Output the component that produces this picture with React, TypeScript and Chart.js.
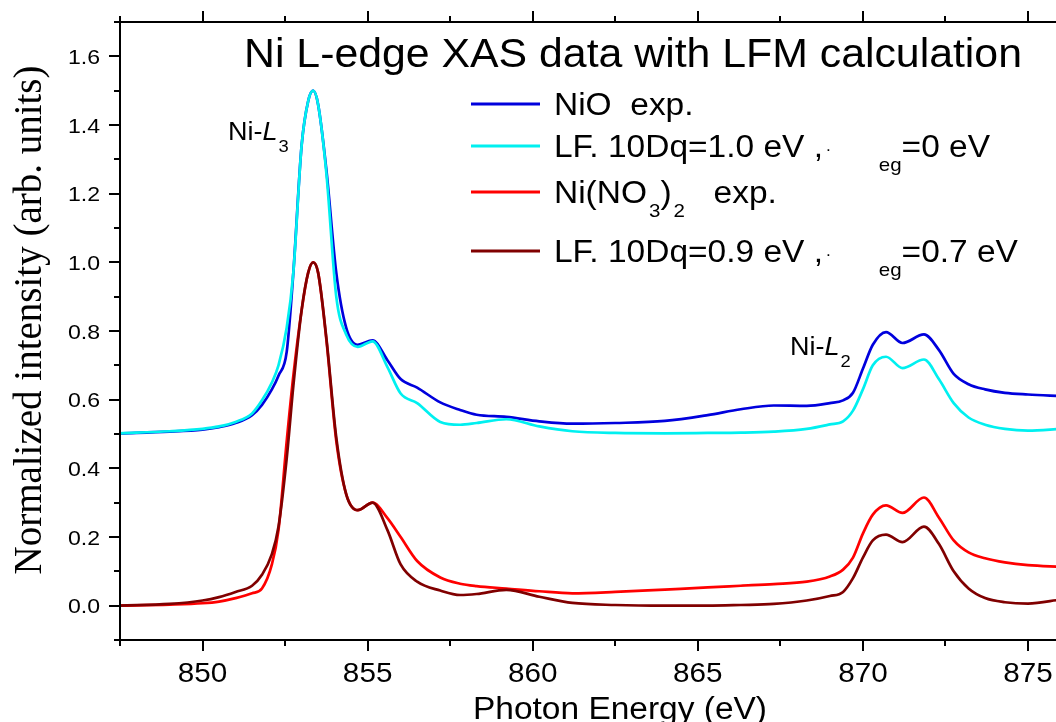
import React, { useEffect, useRef } from "react";
import { Chart, registerables } from "chart.js";

Chart.register(...registerables);

// ---- data ----
const energy = [
  847.5, 849, 850, 850.5, 851, 851.5, 851.8, 852.1, 852.3, 852.55, 852.75, 853.0, 853.2, 853.35, 853.5,
  853.75, 854.05, 854.35, 854.7, 855.15, 855.6, 856.0, 856.5, 857.2, 857.8, 858.3, 859.2, 860.2, 861.2,
  862.5, 864, 865.3, 866.3, 867.3, 868.3, 869.0, 869.4, 869.7, 870.0, 870.3, 870.7, 871.2, 871.85, 872.3,
  872.75, 873.2, 873.7, 874.3, 875.0, 876,
];

const nioExp = [
  0.502, 0.507, 0.513, 0.52, 0.532, 0.555, 0.585, 0.63, 0.67, 0.74, 0.97, 1.34, 1.47, 1.5, 1.46,
  1.27, 0.97, 0.81, 0.76, 0.773, 0.715, 0.66, 0.635, 0.592, 0.57, 0.556, 0.55, 0.537, 0.53,
  0.532, 0.538, 0.555, 0.572, 0.583, 0.582, 0.59, 0.598, 0.62, 0.69, 0.76, 0.797, 0.765, 0.79, 0.745,
  0.675, 0.645, 0.63, 0.62, 0.615, 0.61,
];

const nioLF = [
  0.502, 0.508, 0.515, 0.522, 0.535, 0.56, 0.598, 0.65, 0.7, 0.81, 0.97, 1.34, 1.47, 1.5, 1.46,
  1.26, 0.9, 0.79, 0.754, 0.77, 0.695, 0.618, 0.59, 0.535, 0.527, 0.532, 0.543, 0.522, 0.508,
  0.503, 0.502, 0.503, 0.504, 0.507, 0.515, 0.528, 0.537, 0.568, 0.63, 0.7, 0.725, 0.692, 0.717, 0.66,
  0.59, 0.548, 0.527, 0.515, 0.51, 0.515,
];

const nitrateExp = [
  0.0, 0.003, 0.007, 0.012, 0.022, 0.036, 0.05, 0.12, 0.22, 0.48, 0.67, 0.86, 0.97, 1.0, 0.97,
  0.775, 0.48, 0.325, 0.278, 0.3, 0.255, 0.2, 0.13, 0.082, 0.064, 0.057, 0.05, 0.042, 0.036,
  0.04, 0.047, 0.053, 0.058, 0.063, 0.07, 0.085, 0.105, 0.14, 0.21, 0.265, 0.292, 0.27, 0.315, 0.257,
  0.19, 0.155, 0.138, 0.126, 0.118, 0.113,
];

const nitrateLF = [
  0.0, 0.005, 0.015, 0.025, 0.04, 0.058, 0.09, 0.15, 0.23, 0.43, 0.64, 0.86, 0.97, 1.0, 0.97,
  0.78, 0.49, 0.325, 0.278, 0.3, 0.22, 0.12, 0.07, 0.044, 0.031, 0.034, 0.046, 0.026, 0.008,
  0.002, 0.0, 0.0, 0.002, 0.005, 0.015, 0.028, 0.04, 0.08, 0.14, 0.19, 0.207, 0.185, 0.23, 0.18,
  0.1, 0.05, 0.022, 0.01, 0.006, 0.018,
];

const xTicks = [850, 855, 860, 865, 870, 875];
const xMinorTicks = [847.5, 852.5, 857.5, 862.5, 867.5, 872.5];
const yTicks = [0, 0.2, 0.4, 0.6, 0.8, 1.0, 1.2, 1.4, 1.6];
const yTickLabels = ["0.0", "0.2", "0.4", "0.6", "0.8", "1.0", "1.2", "1.4", "1.6"];
const yMinorTicks = [-0.1, 0.1, 0.3, 0.5, 0.7, 0.9, 1.1, 1.3, 1.5, 1.7];

const seriesNames = ["NiO  exp.", "LF NiO", "Ni(NO3)2  exp.", "LF Ni(NO3)2"];
const seriesColors = ["#0000dd", "#00f0f0", "#ff0000", "#800000"];

type Part = { t?: string; sub?: boolean; tiny?: boolean; gap?: number };
const legendRow1: Part[] = [{ t: "NiO  exp." }];
const legendRow2: Part[] = [{ t: "LF. 10Dq=1.0 eV ," }, { t: ".", tiny: true }, { gap: 48 }, { t: "eg", sub: true }, { t: "=0 eV" }];
const legendRow3: Part[] = [{ t: "Ni(NO" }, { gap: 2 }, { t: "3", sub: true }, { t: ")" }, { gap: 2 }, { t: "2", sub: true }, { gap: 10 }, { t: "  exp." }];
const legendRow4: Part[] = [{ t: "LF. 10Dq=0.9 eV ," }, { t: ".", tiny: true }, { gap: 48 }, { t: "eg", sub: true }, { t: "=0.7 eV" }];
const legendRows = [legendRow1, legendRow2, legendRow3, legendRow4];

const chartTitle = "Ni L-edge XAS data with LFM calculation";
const xTitle = "Photon Energy (eV)";
const yTitle = "Normalized intensity (arb. units)";

const SANS = '"Liberation Sans", Arial, Helvetica, sans-serif';
const SERIF = '"Liberation Serif", "Times New Roman", serif';
const SX = 1.08; // the reference's lettering is a little wider than tall

function wideText(ctx: CanvasRenderingContext2D, text: string, x: number, y: number, align: CanvasTextAlign, sx = SX) {
  ctx.save();
  ctx.translate(x, y);
  ctx.scale(sx, 1);
  ctx.textAlign = align;
  ctx.fillText(text, 0, 0);
  ctx.restore();
}

function drawParts(ctx: CanvasRenderingContext2D, parts: Part[], x: number, baseline: number, size: number, subSize: number, subDrop: number) {
  let cx = x;
  for (const p of parts) {
    if (p.gap) { cx += p.gap; continue; }
    const t = p.t || "";
    if (p.sub) {
      ctx.font = `${subSize}px ${SANS}`;
      wideText(ctx, t, cx, baseline + subDrop, "left");
    } else if (p.tiny) {
      ctx.font = `${Math.round(size * 0.5)}px ${SANS}`;
      wideText(ctx, t, cx + 3, baseline - 6, "left");
    } else {
      ctx.font = `${size}px ${SANS}`;
      wideText(ctx, t, cx, baseline, "left");
    }
    cx += ctx.measureText(t).width * SX + (p.tiny ? 3 : 0);
  }
}

const decorPlugin = {
  id: "decor",
  afterDraw(chart: any) {
    const ctx: CanvasRenderingContext2D = chart.ctx;
    const { left, right, top, bottom } = chart.chartArea;
    const xs = chart.scales.x;
    const ys = chart.scales.y;
    ctx.save();
    ctx.strokeStyle = "#000";
    ctx.fillStyle = "#000";
    ctx.lineWidth = 2;
    ctx.lineCap = "butt";
    // axis lines
    ctx.beginPath();
    ctx.moveTo(left, top - 1);
    ctx.lineTo(left, bottom + 1);
    ctx.moveTo(left - 1, bottom);
    ctx.lineTo(right, bottom);
    ctx.moveTo(left - 1, top);
    ctx.lineTo(right, top);
    ctx.stroke();
    // ticks, pointing outward
    ctx.beginPath();
    for (const v of xTicks) {
      const px = Math.round(xs.getPixelForValue(v));
      ctx.moveTo(px, bottom); ctx.lineTo(px, bottom + 11);
      ctx.moveTo(px, top); ctx.lineTo(px, top - 11);
    }
    for (const v of xMinorTicks) {
      const px = Math.round(xs.getPixelForValue(v));
      ctx.moveTo(px, bottom); ctx.lineTo(px, bottom + 6);
      ctx.moveTo(px, top); ctx.lineTo(px, top - 6);
    }
    for (const v of yTicks) {
      const py = Math.round(ys.getPixelForValue(v));
      ctx.moveTo(left, py); ctx.lineTo(left - 11, py);
    }
    for (const v of yMinorTicks) {
      const py = Math.round(ys.getPixelForValue(v));
      ctx.moveTo(left, py); ctx.lineTo(left - 6, py);
    }
    ctx.stroke();

    // tick labels, placed by the chart's scales
    ctx.textBaseline = "alphabetic";
    ctx.font = `28px ${SANS}`;
    for (const v of xTicks) {
      wideText(ctx, String(v), xs.getPixelForValue(v), 682, "center", 1.06);
    }
    ctx.font = `21px ${SANS}`;
    yTicks.forEach((v, i) => {
      wideText(ctx, yTickLabels[i], left - 20, ys.getPixelForValue(v) + 7.5, "right", 1.1);
    });

    // chart title
    ctx.font = `40px ${SANS}`;
    wideText(ctx, chartTitle, 633, 67, "center", 1.07);

    // x axis title
    ctx.font = `31px ${SANS}`;
    wideText(ctx, xTitle, 620, 719, "center");

    // y axis title
    ctx.save();
    ctx.translate(41, 320);
    ctx.rotate(-Math.PI / 2);
    ctx.textAlign = "center";
    ctx.font = `39px ${SERIF}`;
    ctx.fillText(yTitle, 0, 0);
    ctx.restore();

    // peak annotations
    const annot = (x: number, base: number, sub: string) => {
      ctx.font = `25px ${SANS}`;
      wideText(ctx, "Ni-", x, base, "left");
      let cx = x + ctx.measureText("Ni-").width * SX;
      ctx.font = `italic 25px ${SANS}`;
      wideText(ctx, "L", cx, base, "left");
      cx += ctx.measureText("L").width * SX + 1;
      ctx.font = `17px ${SANS}`;
      wideText(ctx, sub, cx, base + 12, "left");
    };
    annot(228, 140, "3");
    annot(790, 355, "2");

    // legend
    const rowY = [104, 146, 192, 251];
    chart.data.datasets.forEach((ds: any, i: number) => {
      const y = rowY[i];
      ctx.strokeStyle = ds.borderColor;
      ctx.lineWidth = 3;
      ctx.beginPath();
      ctx.moveTo(471, y);
      ctx.lineTo(540, y);
      ctx.stroke();
      ctx.fillStyle = "#000";
      drawParts(ctx, legendRows[i], 554, y + 11, 31, 19, 14);
    });
    ctx.restore();
  },
};

export default function App() {
  const ref = useRef<HTMLCanvasElement | null>(null);
  useEffect(() => {
    if (!ref.current) return;
    const allSeries = [nioExp, nioLF, nitrateExp, nitrateLF];
    const drawOrder = [4, 3, 2, 1];
    const chart = new Chart(ref.current, {
      type: "line",
      data: {
        datasets: allSeries.map((vals, i) => ({
          label: seriesNames[i],
          data: energy.map((e, k) => ({ x: e, y: vals[k] })),
          borderColor: seriesColors[i],
          backgroundColor: seriesColors[i],
          borderWidth: 2.7,
          pointRadius: 0,
          cubicInterpolationMode: "monotone" as const,
          fill: false,
          order: drawOrder[i],
        })),
      },
      options: {
        responsive: true,
        maintainAspectRatio: false,
        animation: false,
        events: [],
        layout: { padding: { left: 0, top: 22, right: 39, bottom: 0 } },
        plugins: { legend: { display: false }, tooltip: { enabled: false }, title: { display: false } },
        scales: {
          x: {
            type: "linear",
            min: 847.5,
            max: 876,
            grid: { display: false, drawTicks: false },
            border: { display: false },
            ticks: { display: false },
            afterFit: (s: any) => { s.height = 82; },
          },
          y: {
            type: "linear",
            min: -0.1,
            max: 1.7,
            grid: { display: false, drawTicks: false },
            border: { display: false },
            ticks: { display: false },
            afterFit: (s: any) => { s.width = 120; },
          },
        },
      },
      plugins: [decorPlugin],
    });
    return () => chart.destroy();
  }, []);

  return (
    <div style={{ position: "fixed", left: 0, top: 0, width: 1056, height: 722, overflow: "hidden", background: "#fff" }}>
      <div style={{ position: "relative", width: 1100, height: 722 }}>
        <canvas ref={ref} />
      </div>
    </div>
  );
}
